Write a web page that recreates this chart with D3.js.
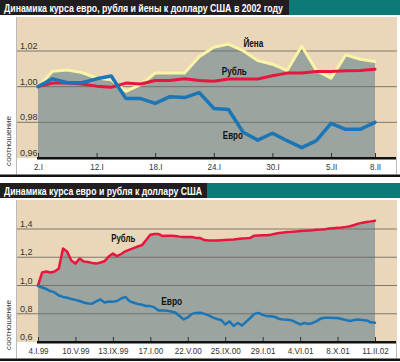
<!DOCTYPE html>
<html>
<head>
<meta charset="utf-8">
<script src="https://cdn.jsdelivr.net/npm/d3@7"></script>
<style>
  body { margin: 0; background: #fff; }
  svg { display: block; font-family: "Liberation Sans Narrow", "Arial Narrow", "Liberation Sans", sans-serif; }
</style>
</head>
<body>
<div id="chart"></div>
<script>
// --- top chart: 2002, trading days
const topTickLabels = ['2.I', '12.I', '18.I', '24.I', '30.I', '5.II', '8.II'];
const topTickIdx = [0, 4, 8, 12, 16, 20, 23];
const topYTicks = [0.96, 0.98, 1.00, 1.02];
const euro02 = [1.000, 1.0044, 1.0022, 1.0022, 1.0044, 1.006, 0.9933, 0.9933, 0.9906, 0.9944, 0.9939, 0.9967,
                0.9878, 0.9872, 0.9744, 0.970, 0.9739, 0.9697, 0.9658, 0.9697, 0.9794, 0.9761, 0.9761, 0.980];
const ruble02 = [1.000, 1.002, 1.002, 1.0015, 1.0003, 0.9997, 1.002, 1.0015, 1.0035, 1.0035, 1.0045, 1.0035,
                 1.003, 1.0043, 1.0043, 1.0043, 1.0061, 1.0076, 1.0076, 1.0085, 1.0085, 1.0089, 1.009, 1.0098];
const yen02 = [1.000, 1.0086, 1.0094, 1.0079, 1.0048, 1.0039, 0.9974, 1.0011, 1.0076, 1.0076, 1.0076, 1.0168,
               1.0221, 1.0239, 1.0202, 1.0146, 1.0126, 1.0091, 1.0228, 1.0091, 1.0048, 1.0178, 1.0154, 1.0141];

// --- bottom chart: 1999-2002, one value per 14 days from 4.I.99
const longStart = new Date(1999, 0, 4);
const longTickLabels = ['4.I.99', '10.V.99', '13.IX.99', '17.I.00', '22.V.00', '25.IX.00', '29.I.01', '4.VI.01', '8.X.01', '11.II.02'];
const longYTicks = [0.6, 0.8, 1.0, 1.2, 1.4];
const rubleLong = [1.00, 1.092, 1.099, 1.092, 1.099, 1.12, 1.261, 1.24, 1.177, 1.155, 1.191, 1.17, 1.166, 1.16, 1.155, 1.163,
  1.172, 1.205, 1.226, 1.208, 1.223, 1.242, 1.254, 1.265, 1.276, 1.286, 1.322, 1.36, 1.365, 1.364, 1.35, 1.353,
  1.353, 1.35, 1.346, 1.344, 1.344, 1.343, 1.337, 1.336, 1.322, 1.318, 1.318, 1.318, 1.32, 1.322, 1.324, 1.325,
  1.329, 1.332, 1.334, 1.337, 1.353, 1.354, 1.355, 1.355, 1.36, 1.366, 1.371, 1.375, 1.378, 1.38, 1.383, 1.385,
  1.387, 1.389, 1.391, 1.394, 1.396, 1.399, 1.403, 1.406, 1.408, 1.411, 1.415, 1.42, 1.428, 1.438, 1.445, 1.45,
  1.454, 1.459];
const euroLong = [0.996, 0.986, 0.975, 0.96, 0.951, 0.929, 0.919, 0.913, 0.905, 0.898, 0.89, 0.88, 0.873, 0.871, 0.887, 0.901,
  0.88, 0.887, 0.885, 0.89, 0.908, 0.919, 0.89, 0.878, 0.869, 0.864, 0.855, 0.854, 0.845, 0.823, 0.823, 0.821,
  0.816, 0.809, 0.784, 0.76, 0.774, 0.799, 0.806, 0.807, 0.799, 0.788, 0.774, 0.763, 0.756, 0.724, 0.746, 0.714,
  0.735, 0.717, 0.742, 0.77, 0.799, 0.806, 0.792, 0.783, 0.783, 0.777, 0.763, 0.76, 0.758, 0.753, 0.739, 0.724,
  0.735, 0.728, 0.735, 0.748, 0.767, 0.772, 0.772, 0.77, 0.77, 0.763, 0.756, 0.749, 0.756, 0.76, 0.756, 0.753,
  0.739, 0.736];

const W = 400, H = 362;
const C = {
  dark: '#221d1e', teal: '#0d7a78', beige: '#ead6b8', fill: '#9ba49e',
  grid: '#6b6a60', euro: '#1b76b8', ruble: '#e8163f', yen: '#f9f4a6', text: '#333'
};

const svg = d3.select('#chart').append('svg').attr('width', W).attr('height', H);
const fmt = d => d3.format('.2f')(d).replace('.', ',');
const fmt1 = d => d3.format('.1f')(d).replace('.', ',');

function frame({top, titleText, titleW, textW, plotBottom, stripBottom, yTitleMid}) {
  // title bar
  svg.append('rect').attr('x', 0).attr('y', top).attr('width', W).attr('height', 15).attr('fill', C.teal);
  svg.append('rect').attr('x', 0).attr('y', top).attr('width', titleW).attr('height', 15).attr('fill', C.dark);
  svg.append('text').attr('x', 4).attr('y', top + 11.5)
    .attr('fill', '#fff').attr('font-weight', 'bold').attr('font-size', 11)
    .attr('textLength', textW).attr('lengthAdjust', 'spacingAndGlyphs')
    .text(titleText);
  // beige panel
  svg.append('rect').attr('x', 17).attr('y', top + 17).attr('width', 380).attr('height', plotBottom - top - 17)
    .attr('fill', C.beige);
  svg.append('line').attr('x1', 16.5).attr('x2', 16.5).attr('y1', top + 17).attr('y2', stripBottom)
    .attr('stroke', '#bbb');
  svg.append('line').attr('x1', 396.5).attr('x2', 396.5).attr('y1', plotBottom).attr('y2', stripBottom)
    .attr('stroke', '#bbb');
  // bottom black rule
  svg.append('rect').attr('x', 0).attr('y', stripBottom).attr('width', W).attr('height', 2.5).attr('fill', '#111');
  // y title
  svg.append('text').attr('transform', `translate(11,${yTitleMid}) rotate(-90)`)
    .attr('text-anchor', 'middle').attr('font-size', 8).attr('fill', C.text)
    .attr('textLength', 50).attr('lengthAdjust', 'spacingAndGlyphs').text('соотношение');
}

function plot({x, y, yTicks, yFmt, xTicks, xLabels, plotBottom, fillData, series, labels}) {
  const g = svg.append('g');
  const area = d3.area().x(d => x(d[0])).y0(plotBottom).y1(d => y(d[1]));
  g.append('path').datum(fillData).attr('d', area).attr('fill', C.fill);
  // grid lines over fill
  g.selectAll('.grid').data(yTicks.slice(1)).enter().append('line')
    .attr('x1', 17).attr('x2', 397).attr('y1', d => y(d)).attr('y2', d => y(d))
    .attr('stroke', C.grid).attr('stroke-width', 1).attr('stroke-opacity', 0.85);
  g.selectAll('.ylab').data(yTicks).enter().append('text')
    .attr('x', 20).attr('y', d => y(d) - 2).attr('font-size', 9).attr('fill', C.text).text(yFmt);
  // x axis
  const ax = g.append('g').attr('transform', `translate(0,${plotBottom})`)
    .call(d3.axisBottom(x).tickValues(xTicks).tickSize(-5).tickPadding(6).tickFormat((d, i) => xLabels[i]));
  ax.select('.domain').remove();
  ax.selectAll('.tick line').attr('stroke', '#333');
  ax.selectAll('.tick text').attr('font-size', 9).attr('fill', C.text)
    .attr('font-family', '"Liberation Sans Narrow", "Arial Narrow", "Liberation Sans", sans-serif')
    .attr('transform', 'scale(0.9,1)');
  g.append('rect').attr('x', 37).attr('y', plotBottom - 1).attr('width', 359).attr('height', 2.5).attr('fill', '#111');
  const line = d3.line().x(d => x(d[0])).y(d => y(d[1])).curve(d3.curveLinear);
  series.forEach(s => {
    g.append('path').datum(s.data).attr('d', line).attr('fill', 'none')
      .attr('stroke', s.color).attr('stroke-width', s.width)
      .attr('stroke-linejoin', 'round').attr('stroke-linecap', 'round');
  });
  labels.forEach(l => {
    g.append('text').attr('x', x(l.at[0]) - l.w / 2).attr('y', y(l.at[1]))
      .attr('font-size', 10).attr('font-weight', 'bold').attr('fill', '#111')
      .attr('textLength', l.w).attr('lengthAdjust', 'spacingAndGlyphs').text(l.text);
  });
}

// ---------- top chart
frame({top: 0, titleText: 'Динамика курса евро, рубля и йены к доллару США в 2002 году', titleW: 289, textW: 279,
       plotBottom: 158, stripBottom: 174.5, yTitleMid: 141});
const x1 = d3.scaleLinear().domain([0, euro02.length - 1]).range([38, 375]);
const y1 = d3.scaleLinear().domain([0.96, 1.02]).range([158, 51]);
const idx = euro02.map((d, i) => i);
plot({
  x: x1, y: y1, yTicks: topYTicks, yFmt: fmt, xTicks: topTickIdx, xLabels: topTickLabels, plotBottom: 158,
  fillData: idx.map(i => [i, yen02[i]]),
  series: [
    {data: idx.map(i => [i, yen02[i]]), color: C.yen, width: 3},
    {data: idx.map(i => [i, ruble02[i]]), color: C.ruble, width: 3},
    {data: idx.map(i => [i, euro02[i]]), color: C.euro, width: 3.5}
  ],
  labels: [
    {text: 'Йена', at: [14.7, 1.0222], w: 20},
    {text: 'Рубль', at: [13.4, 1.0067], w: 25},
    {text: 'Евро', at: [13.3, 0.9706], w: 20}
  ]
});

// ---------- bottom chart
frame({top: 183, titleText: 'Динамика курса евро и рубля к доллару США', titleW: 207, textW: 198,
       plotBottom: 342, stripBottom: 358.5, yTitleMid: 325});
const longDates = rubleLong.map((d, i) => d3.timeDay.offset(longStart, i * 14));
const tickDates = longTickLabels.map((d, i) => d3.timeDay.offset(longStart, i * 126));
const x2 = d3.scaleTime().domain([longStart, longDates[longDates.length - 1]]).range([38, 375]);
const y2 = d3.scaleLinear().domain([0.6, 1.4]).range([342, 229]);
plot({
  x: x2, y: y2, yTicks: longYTicks, yFmt: fmt1, xTicks: tickDates, xLabels: longTickLabels, plotBottom: 342,
  fillData: longDates.map((d, i) => [d, rubleLong[i]]),
  series: [
    {data: longDates.map((d, i) => [d, rubleLong[i]]), color: C.ruble, width: 2.5},
    {data: longDates.map((d, i) => [d, euroLong[i]]), color: C.euro, width: 2.5}
  ],
  labels: [
    {text: 'Рубль', at: [d3.timeDay.offset(longStart, 287), 1.311], w: 24},
    {text: 'Евро', at: [d3.timeDay.offset(longStart, 450), 0.859], w: 21}
  ]
});
</script>
</body>
</html>
